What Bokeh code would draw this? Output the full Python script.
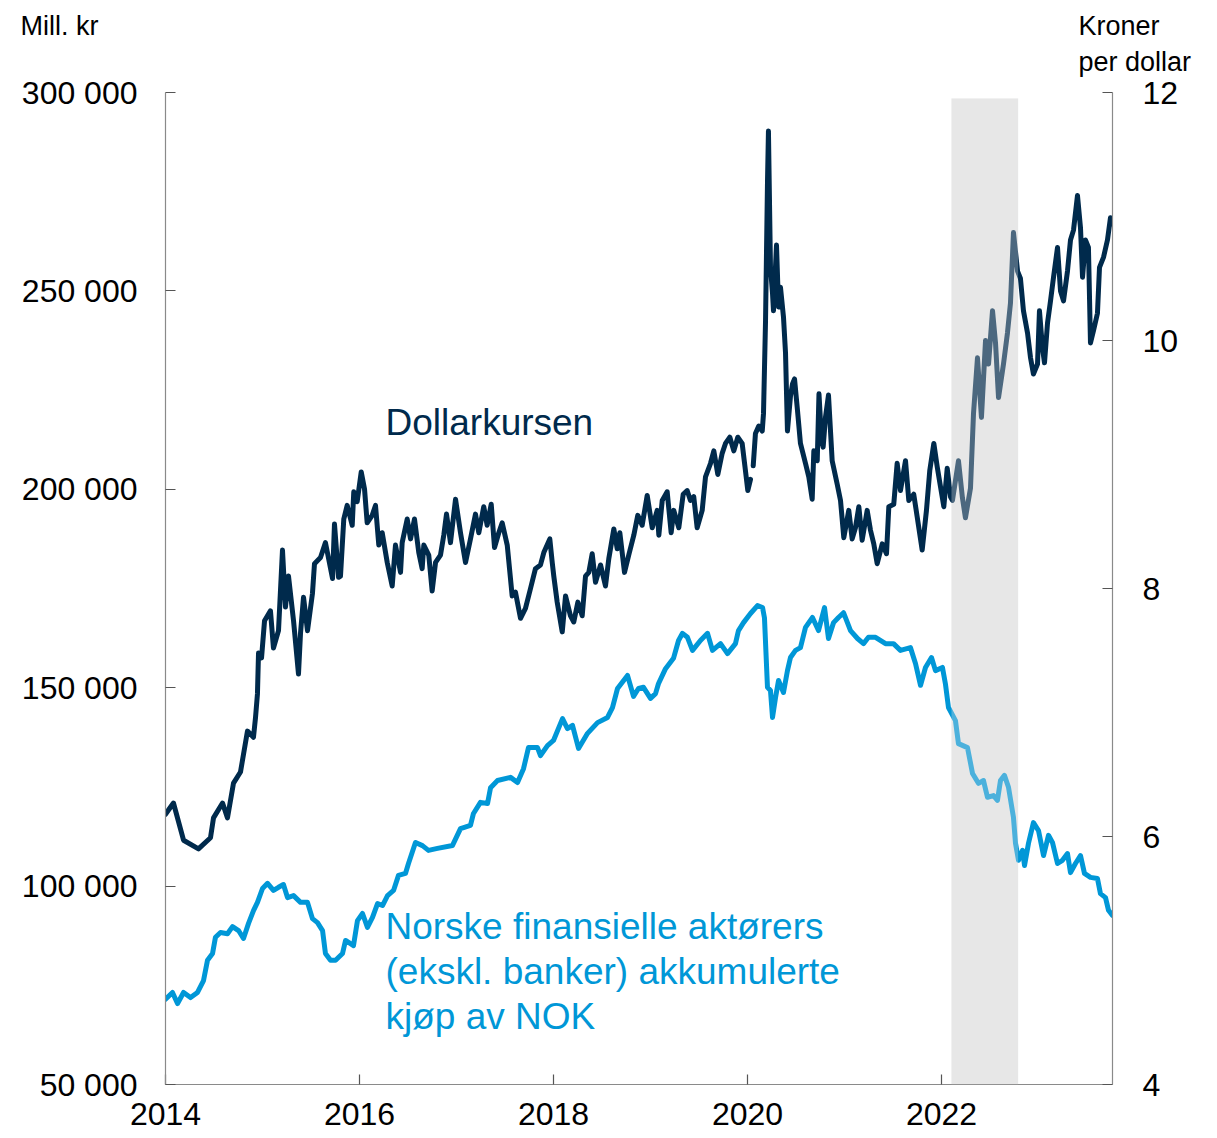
from bokeh.plotting import figure
from bokeh.models import Range1d, LinearAxis, FixedTicker, Label, BoxAnnotation
from bokeh.embed import file_html
from bokeh.resources import INLINE

NaN = float("nan")

# ---------------- data ----------------
# Dollar exchange rate (NOK per USD), right axis: (decimal year, kroner per dollar)
usd_points = [
    (2014.000, 6.18), (2014.082, 6.27), (2014.186, 5.97), (2014.340, 5.90), (2014.464, 5.99),
    (2014.495, 6.15), (2014.588, 6.27), (2014.639, 6.15), (2014.701, 6.43), (2014.773, 6.52),
    (2014.845, 6.85), (2014.907, 6.80), (2014.928, 6.96), (2014.948, 7.15), (2014.959, 7.48),
    (2014.990, 7.44), (2015.021, 7.74), (2015.082, 7.82), (2015.113, 7.52), (2015.165, 7.66),
    (2015.206, 8.31), (2015.237, 7.85), (2015.268, 8.10), (2015.320, 7.74), (2015.371, 7.31),
    (2015.392, 7.64), (2015.423, 7.93), (2015.464, 7.66), (2015.515, 7.96), (2015.536, 8.20),
    (2015.598, 8.25), (2015.649, 8.37), (2015.722, 8.08), (2015.742, 8.52), (2015.784, 8.09),
    (2015.804, 8.10), (2015.838, 8.56), (2015.873, 8.67), (2015.925, 8.51), (2015.941, 8.78),
    (2015.976, 8.70), (2016.018, 8.94), (2016.052, 8.80), (2016.079, 8.53), (2016.131, 8.59),
    (2016.165, 8.67), (2016.199, 8.35), (2016.234, 8.45), (2016.286, 8.21), (2016.337, 8.02),
    (2016.371, 8.35), (2016.423, 8.13), (2016.440, 8.37), (2016.492, 8.56), (2016.526, 8.40),
    (2016.567, 8.56), (2016.611, 8.29), (2016.646, 8.16), (2016.663, 8.35), (2016.714, 8.27),
    (2016.749, 7.98), (2016.784, 8.21), (2016.835, 8.27), (2016.869, 8.43), (2016.897, 8.60),
    (2016.938, 8.37), (2016.990, 8.72), (2017.041, 8.45), (2017.093, 8.21), (2017.144, 8.40),
    (2017.196, 8.60), (2017.230, 8.45), (2017.281, 8.66), (2017.316, 8.51), (2017.358, 8.68),
    (2017.392, 8.33), (2017.436, 8.45), (2017.471, 8.53), (2017.523, 8.35), (2017.574, 7.94),
    (2017.608, 7.97), (2017.660, 7.76), (2017.711, 7.84), (2017.763, 8.00), (2017.814, 8.16),
    (2017.866, 8.19), (2017.900, 8.29), (2017.962, 8.40), (2017.987, 8.21), (2018.003, 8.10),
    (2018.038, 7.89), (2018.090, 7.65), (2018.124, 7.94), (2018.175, 7.78), (2018.209, 7.73),
    (2018.251, 7.89), (2018.296, 7.78), (2018.330, 8.10), (2018.364, 8.13), (2018.399, 8.28),
    (2018.433, 8.05), (2018.485, 8.19), (2018.536, 8.02), (2018.570, 8.24), (2018.622, 8.48),
    (2018.657, 8.32), (2018.684, 8.45), (2018.732, 8.13), (2018.776, 8.27), (2018.828, 8.43),
    (2018.869, 8.59), (2018.914, 8.51), (2018.966, 8.75), (2019.018, 8.49), (2019.069, 8.63),
    (2019.086, 8.43), (2019.121, 8.71), (2019.172, 8.78), (2019.213, 8.45), (2019.240, 8.63),
    (2019.292, 8.49), (2019.337, 8.76), (2019.378, 8.79), (2019.412, 8.71), (2019.446, 8.74),
    (2019.481, 8.49), (2019.533, 8.63), (2019.567, 8.90), (2019.619, 9.01), (2019.653, 9.11),
    (2019.694, 8.92), (2019.739, 9.09), (2019.773, 9.17), (2019.818, 9.22), (2019.859, 9.11),
    (2019.900, 9.22), (2019.945, 9.17), (2019.979, 8.95), (2020.003, 8.79), (2020.031, 8.88),
    (2020.040, NaN), (2020.059, 8.99), (2020.082, 9.25), (2020.116, 9.31), (2020.152, 9.27),
    (2020.165, 9.41), (2020.186, 10.16), (2020.206, 11.27), (2020.216, 11.69), (2020.237, 10.59),
    (2020.258, 10.38), (2020.268, 10.24), (2020.299, 10.77), (2020.320, 10.27), (2020.340, 10.43),
    (2020.371, 10.19), (2020.392, 9.90), (2020.412, 9.27), (2020.443, 9.55), (2020.464, 9.65),
    (2020.485, 9.69), (2020.515, 9.44), (2020.546, 9.17), (2020.598, 9.01), (2020.632, 8.90),
    (2020.667, 8.72), (2020.684, 9.11), (2020.719, 9.03), (2020.737, 9.57), (2020.763, 9.20),
    (2020.780, 9.14), (2020.804, 9.38), (2020.835, 9.56), (2020.873, 9.03), (2020.925, 8.84),
    (2020.959, 8.71), (2020.993, 8.41), (2021.044, 8.63), (2021.079, 8.40), (2021.113, 8.49),
    (2021.148, 8.66), (2021.182, 8.39), (2021.234, 8.63), (2021.268, 8.47), (2021.302, 8.36),
    (2021.337, 8.20), (2021.389, 8.36), (2021.433, 8.28), (2021.457, 8.66), (2021.508, 8.68),
    (2021.543, 9.01), (2021.577, 8.79), (2021.629, 9.03), (2021.663, 8.71), (2021.714, 8.76),
    (2021.749, 8.58), (2021.801, 8.31), (2021.845, 8.63), (2021.879, 8.95), (2021.921, 9.17),
    (2021.956, 8.98), (2021.990, 8.82), (2022.024, 8.66), (2022.059, 8.97), (2022.093, 8.74),
    (2022.113, 8.71), (2022.175, 9.03), (2022.216, 8.73), (2022.247, 8.57), (2022.299, 8.81),
    (2022.330, 9.41), (2022.371, 9.86), (2022.412, 9.38), (2022.454, 10.00), (2022.485, 9.81),
    (2022.526, 10.24), (2022.557, 9.98), (2022.588, 9.54), (2022.639, 9.81), (2022.680, 10.06),
    (2022.711, 10.30), (2022.742, 10.87), (2022.784, 10.56), (2022.814, 10.50), (2022.845, 10.24),
    (2022.887, 10.06), (2022.918, 9.86), (2022.948, 9.73), (2022.990, 9.81), (2023.010, 10.24),
    (2023.041, 9.94), (2023.062, 9.82), (2023.093, 10.14), (2023.124, 10.32), (2023.155, 10.51),
    (2023.196, 10.75), (2023.227, 10.40), (2023.258, 10.32), (2023.299, 10.56), (2023.330, 10.81),
    (2023.361, 10.89), (2023.402, 11.17), (2023.433, 10.91), (2023.454, 10.51), (2023.485, 10.81),
    (2023.515, 10.75), (2023.536, 9.98), (2023.567, 10.08), (2023.608, 10.22), (2023.629, 10.59),
    (2023.670, 10.67), (2023.711, 10.81), (2023.742, 10.99), (2023.763, 10.94),
]
usd_year = [t for t, v in usd_points]
usd_nok = [v for t, v in usd_points]

# Norwegian financial actors' (excl. banks) accumulated NOK purchases, mill. kr, left axis
flow_year = [2014.000, 2014.072, 2014.124, 2014.186, 2014.258, 2014.330, 2014.392, 2014.433, 2014.485, 2014.515,
             2014.567, 2014.639, 2014.691, 2014.753, 2014.804, 2014.856, 2014.907, 2014.948, 2015.000, 2015.052,
             2015.113, 2015.165, 2015.216, 2015.258, 2015.320, 2015.392, 2015.464, 2015.515, 2015.567, 2015.619,
             2015.649, 2015.701, 2015.753, 2015.825, 2015.856, 2015.907, 2015.938, 2015.979, 2016.031, 2016.082,
             2016.134, 2016.186, 2016.237, 2016.289, 2016.351, 2016.402, 2016.474, 2016.505, 2016.577, 2016.649,
             2016.711, 2016.804, 2016.959, 2017.041, 2017.144, 2017.175, 2017.247, 2017.320, 2017.351, 2017.423,
             2017.557, 2017.629, 2017.691, 2017.742, 2017.835, 2017.866, 2017.938, 2018.000, 2018.093, 2018.144,
             2018.196, 2018.258, 2018.351, 2018.454, 2018.557, 2018.608, 2018.660, 2018.763, 2018.825, 2018.876,
             2018.928, 2019.000, 2019.052, 2019.082, 2019.155, 2019.237, 2019.289, 2019.330, 2019.381, 2019.433,
             2019.515, 2019.588, 2019.639, 2019.722, 2019.794, 2019.876, 2019.907, 2019.959, 2020.031, 2020.103,
             2020.155, 2020.175, 2020.206, 2020.237, 2020.258, 2020.289, 2020.320, 2020.371, 2020.412, 2020.443,
             2020.495, 2020.546, 2020.598, 2020.670, 2020.732, 2020.794, 2020.835, 2020.887, 2020.938, 2020.990,
             2021.062, 2021.134, 2021.196, 2021.247, 2021.320, 2021.423, 2021.505, 2021.577, 2021.680, 2021.732,
             2021.784, 2021.835, 2021.897, 2021.938, 2022.010, 2022.041, 2022.072, 2022.144, 2022.175, 2022.268,
             2022.320, 2022.381, 2022.433, 2022.474, 2022.536, 2022.577, 2022.608, 2022.649, 2022.691, 2022.742,
             2022.763, 2022.794, 2022.835, 2022.856, 2022.897, 2022.948, 2023.000, 2023.052, 2023.103, 2023.144,
             2023.196, 2023.247, 2023.299, 2023.330, 2023.381, 2023.433, 2023.474, 2023.536, 2023.608, 2023.639,
             2023.691, 2023.722, 2023.763]
flow_mnok = [71500, 73200, 70400, 73200, 71900, 73200, 76200, 81300, 83000, 87100,
             88300, 88000, 89800, 88800, 86800, 90600, 93800, 95900, 99400, 100700,
             98900, 99700, 100400, 97100, 97600, 95900, 95900, 91800, 90800, 88800,
             83000, 81300, 81300, 83000, 86300, 85500, 85000, 91300, 93100, 89600,
             92100, 95600, 95100, 97600, 98900, 102700, 103200, 105700, 111000, 110200,
             109000, 109500, 110250, 114500, 115300, 118300, 121100, 120800, 124800, 126600,
             127400, 126100, 129600, 134900, 134900, 132900, 135400, 136700, 142200, 139700,
             140500, 134700, 138500, 141200, 142500, 145000, 149800, 153100, 147800, 149800,
             150100, 147300, 148500, 151000, 154800, 157400, 161900, 163700, 162700, 159400,
             161900, 163700, 159400, 161100, 158600, 161100, 164400, 166400, 168700, 170700,
             170200, 167600, 150100, 149300, 142500, 147500, 151800, 148800, 154300, 157600,
             159400, 160100, 165200, 167700, 164400, 170200, 162400, 166400, 167700, 168900,
             164400, 162400, 161100, 162700, 162700, 161100, 161100, 159400, 160100, 156100,
             150600, 155100, 157600, 154300, 155100, 150900, 145000, 141700, 135900, 134900,
             128400, 125900, 126600, 122400, 122800, 121600, 126600, 127900, 124900, 117300,
             110800, 106500, 109000, 105200, 110800, 116000, 114000, 107700, 112800, 111000,
             105700, 106500, 108200, 103400, 105700, 107700, 103200, 102200, 101900, 98100,
             97100, 93900, 92600]

left_ticks = [50000, 100000, 150000, 200000, 250000, 300000]
left_tick_labels = ["50 000", "100 000", "150 000", "200 000", "250 000", "300 000"]
right_ticks = [4, 6, 8, 10, 12]
x_ticks = [2014, 2016, 2018, 2020, 2022]
x_tick_labels = ["2014", "2016", "2018", "2020", "2022"]
shade_start, shade_end = 2022.103, 2022.79

# ---------------- styling ----------------
DARK = "#002a4c"
BLUE = "#0097d7"
SHADE = "#e7e8e8"
FONT = "Liberation Sans"

X_START, X_END = 2014.0, 2023.763
Y_MIN, Y_MAX = 50000, 300000
R_MIN, R_MAX = 4, 12

p = figure(width=1217, height=1138, output_backend="svg", toolbar_location=None,
           x_range=Range1d(X_START, X_END), y_range=Range1d(Y_MIN, Y_MAX),
           min_border_left=165, min_border_right=105, min_border_top=92, min_border_bottom=54)
p.extra_y_ranges = {"right": Range1d(R_MIN, R_MAX)}
p.outline_line_color = None
p.grid.visible = False
p.background_fill_color = "white"
p.border_fill_color = "white"

# shaded period (behind lines)
p.add_layout(BoxAnnotation(left=shade_start, right=shade_end, bottom=Y_MIN, top=298500,
                           fill_color=SHADE, fill_alpha=1.0, line_alpha=0, level="underlay"))

p.line(usd_year, usd_nok, y_range_name="right", line_color=DARK, line_width=5,
       line_join="round", line_cap="round")
p.line(flow_year, flow_mnok, line_color=BLUE, line_width=5,
       line_join="round", line_cap="round")

# translucent veil over lines inside the shaded period
p.add_layout(BoxAnnotation(left=shade_start, right=shade_end, bottom=Y_MIN, top=298500,
                           fill_color=SHADE, fill_alpha=0.33, line_alpha=0, level="annotation"))


def style_axis(ax, standoff):
    ax.axis_line_color = "#8a8a8a"
    ax.axis_line_width = 1.2
    ax.major_tick_line_color = "#555555"
    ax.major_tick_line_width = 1.2
    ax.major_tick_in = 10
    ax.major_tick_out = 0
    ax.minor_tick_line_color = None
    ax.major_label_text_font = FONT
    ax.major_label_text_font_size = "32px"
    ax.major_label_text_color = "#000000"
    ax.major_label_standoff = standoff


p.yaxis.ticker = FixedTicker(ticks=left_ticks)
p.yaxis.major_label_overrides = dict(zip(left_ticks, left_tick_labels))
style_axis(p.yaxis[0], 28)

p.xaxis.ticker = FixedTicker(ticks=x_ticks)
p.xaxis.major_label_overrides = dict(zip(x_ticks, x_tick_labels))
style_axis(p.xaxis[0], 18)

rax = LinearAxis(y_range_name="right", ticker=FixedTicker(ticks=right_ticks))
style_axis(rax, 30)
p.add_layout(rax, "right")

# unit labels (placed in the top side panel so they are not clipped to the frame)
for txt, xv, dx, dy in [("Mill. kr", X_START, -145, 67),
                        ("Kroner", X_END, -34, 67),
                        ("per dollar", X_END, -34, 31)]:
    p.add_layout(Label(x=xv, y=Y_MAX, x_offset=dx, y_offset=dy, text=txt,
                       text_font=FONT, text_font_size="27px", text_color="#000000",
                       text_align="left", text_baseline="middle"), "above")

# series annotations
p.add_layout(Label(x=2016.268, y=216840, text="Dollarkursen",
                   text_font=FONT, text_font_size="37px", text_color=DARK,
                   text_align="left", text_baseline="middle"))
for txt, yv in [("Norske finansielle aktørers", 89700),
                ("(ekskl. banker) akkumulerte", 78370),
                ("kjøp av NOK", 67030)]:
    p.add_layout(Label(x=2016.268, y=yv, text=txt,
                       text_font=FONT, text_font_size="37px", text_color=BLUE,
                       text_align="left", text_baseline="middle"))

open("out.html", "w").write(file_html(p, INLINE))
